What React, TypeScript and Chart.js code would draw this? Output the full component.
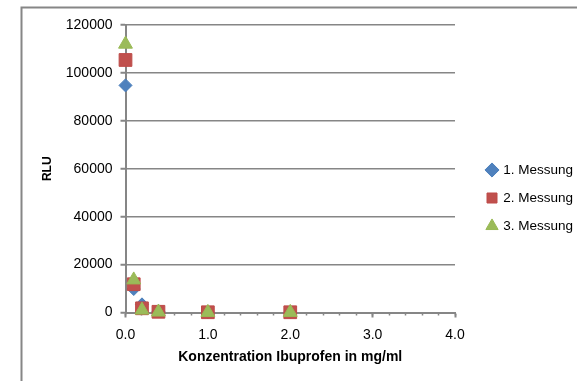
import React, { useEffect, useRef } from "react";
import { Chart, registerables } from "chart.js";

Chart.register(...registerables);

// ---- data ----
const concentrations = [0, 0.1, 0.2, 0.4, 1.0, 2.0];
const messung1 = [94800, 9800, 3400, 500, 150, 150];
const messung2 = [105400, 11800, 1750, 300, 100, 100];
const messung3 = [112000, 13600, 1000, 200, 50, 50];
const seriesLabels = ["1. Messung", "2. Messung", "3. Messung"];
const xTickValues = [0, 1, 2, 3, 4];
const yTickValues = [0, 20000, 40000, 60000, 80000, 100000, 120000];
const xTitle = "Konzentration Ibuprofen in mg/ml";
const yTitle = "RLU";

const GRAY = "#868686";
const FONT = "'Liberation Sans', Arial, sans-serif";

export default function App() {
  const ref = useRef<HTMLCanvasElement>(null);

  useEffect(() => {
    const canvas = ref.current!;
    const frame = {
      id: "frame",
      beforeDraw(chart: any) {
        const c = chart.ctx;
        c.save();
        c.strokeStyle = GRAY;
        c.lineWidth = 2;
        c.beginPath();
        c.moveTo(21.5, 381);
        c.lineTo(21.5, 7.5);
        c.lineTo(577, 7.5);
        c.stroke();
        c.restore();
      },
    };
    const toPts = (ys: number[]) => concentrations.map((x, i) => ({ x, y: ys[i] }));
    const chart = new Chart(canvas, {
      type: "scatter",
      data: {
        datasets: [
          {
            label: seriesLabels[0],
            data: toPts(messung1),
            pointStyle: "rectRot",
            pointRadius: 6.5,
            pointHoverRadius: 6.5,
            backgroundColor: "#4F81BD",
            borderColor: "#4A7EBB",
            borderWidth: 1,
            clip: false,
            order: 3,
          },
          {
            label: seriesLabels[1],
            data: toPts(messung2),
            pointStyle: "rect",
            pointRadius: 9,
            pointHoverRadius: 9,
            backgroundColor: "#C0504D",
            borderColor: "#BE4B48",
            borderWidth: 1,
            clip: false,
            order: 2,
          },
          {
            label: seriesLabels[2],
            data: toPts(messung3),
            pointStyle: "triangle",
            pointRadius: 8,
            pointHoverRadius: 8,
            backgroundColor: "#9BBB59",
            borderColor: "#98B954",
            borderWidth: 1,
            clip: false,
            order: 1,
          },
        ],
      },
      options: {
        responsive: false,
        animation: false,
        events: [],
        layout: { padding: { left: 22, top: 25, right: 0, bottom: 10 } },
        plugins: {
          tooltip: { enabled: false },
          legend: {
            position: "right",
            align: "center",
            maxWidth: 104,
            labels: {
              usePointStyle: true,
              boxWidth: 9,
              boxHeight: 10,
              padding: 14.5,
              color: "#000",
              font: { family: FONT, size: 13.5 },
              sort: (a: any, b: any) => a.datasetIndex - b.datasetIndex,
            },
          },
        },
        scales: {
          y: {
            type: "linear",
            position: "left",
            min: yTickValues[0],
            max: yTickValues[yTickValues.length - 1],
            afterFit: (s: any) => {
              s.width = 103.5;
            },
            ticks: {
              stepSize: yTickValues[1] - yTickValues[0],
              padding: 8,
              color: "#000",
              font: { family: FONT, size: 14 },
              callback: (v: any) => String(v),
            },
            grid: {
              color: GRAY,
              lineWidth: 1.5,
              tickLength: 5,
              tickColor: GRAY,
              tickWidth: 2,
            },
            border: { display: true, color: GRAY, width: 2 },
            title: {
              display: true,
              text: yTitle,
              color: "#000",
              font: { family: FONT, size: 12, weight: "bold" },
              padding: { top: 18.8, bottom: 0 },
            },
          },
          x: {
            type: "linear",
            position: "bottom",
            weight: 1,
            min: xTickValues[0],
            max: xTickValues[xTickValues.length - 1],
            afterFit: (s: any) => {
              s.height = 58.5;
            },
            ticks: {
              stepSize: xTickValues[1] - xTickValues[0],
              padding: 8.8,
              color: "#000",
              font: { family: FONT, size: 14 },
              callback: (v: any) => Number(v).toFixed(1),
            },
            grid: {
              drawOnChartArea: false,
              color: GRAY,
              tickLength: 5,
              tickColor: GRAY,
              tickWidth: 2,
            },
            border: { display: true, color: GRAY, width: 2 },
            title: {
              display: true,
              text: xTitle,
              color: "#000",
              font: { family: FONT, size: 14, weight: "bold" },
              padding: { top: 0, bottom: 5.6 },
            },
          },
          xMinor: {
            type: "linear",
            position: "bottom",
            weight: 0,
            min: xTickValues[0],
            max: xTickValues[xTickValues.length - 1],
            afterFit: (s: any) => {
              s.height = 0;
            },
            ticks: { stepSize: 0.2, display: false, maxTicksLimit: 100 },
            grid: {
              drawOnChartArea: false,
              color: GRAY,
              tickLength: 3,
              tickColor: GRAY,
              tickWidth: 1.5,
            },
            border: { display: false },
          },
          pad: {
            type: "linear",
            position: "right",
            weight: 0,
            afterFit: (s: any) => {
              s.width = 18;
            },
            grid: { display: false },
            ticks: { display: false },
            border: { display: false },
          },
        },
      } as any,
      plugins: [frame],
    });
    return () => chart.destroy();
  }, []);

  return (
    <div style={{ position: "fixed", left: 0, top: 0, width: 577, height: 381, background: "#fff" }}>
      <canvas ref={ref} width={577} height={381} style={{ display: "block", width: 577, height: 381 }} />
    </div>
  );
}
